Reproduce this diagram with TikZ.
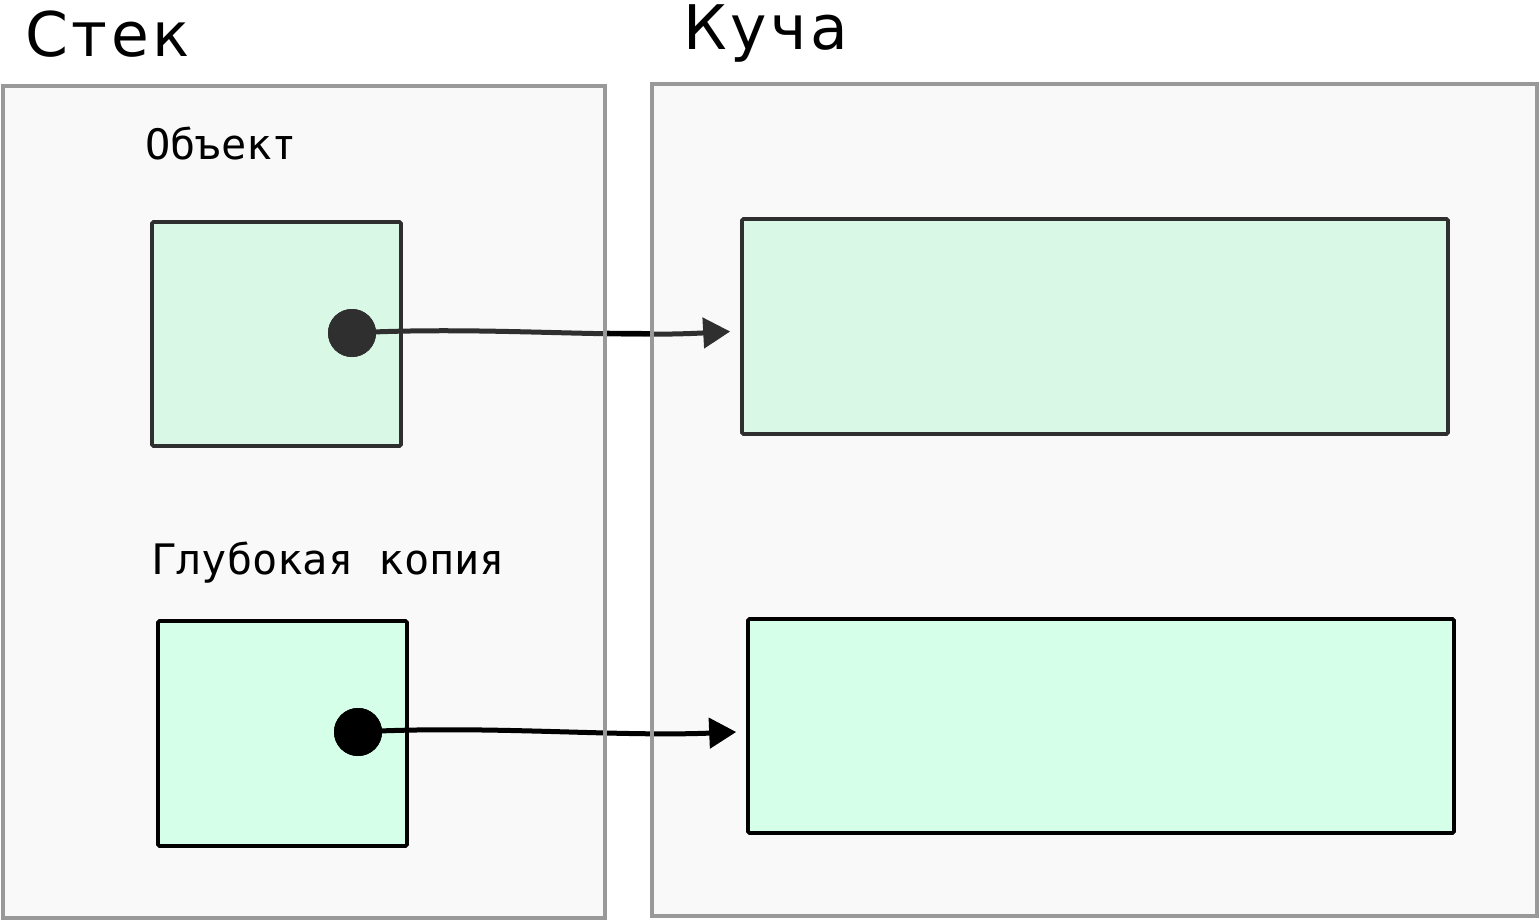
\documentclass[tikz,border=0pt]{standalone}
\usepackage{fontspec}
\setmainfont{DejaVu Sans}[LetterSpace=6]
\newfontfamily\labelmono{DejaVu Sans Mono}
\usetikzlibrary{arrows.meta}
\definecolor{panelfill}{HTML}{F9F9F9}
\definecolor{panelline}{HTML}{999999}
\definecolor{boxA}{HTML}{D9F9E6}
\definecolor{boxB}{HTML}{D5FFE9}
\definecolor{darkA}{HTML}{2F2F2F}
\tikzset{
  panel/.style={draw=panelline, line width=3.5pt, fill=panelfill},
  panelborder/.style={draw=panelline, line width=3.5pt},
  membox/.style={draw, line width=3.6pt, rounded corners=1.5pt, inner sep=0pt},
  refdot/.style={circle, inner sep=0pt, minimum size=48pt},
  refarrow/.style={line width=5pt, -{Triangle[length=27pt,width=30pt]}},
  bigtitle/.style={anchor=base west, inner sep=0pt, font=\fontsize{61.5}{73}\selectfont},
  label/.style={anchor=base west, inner sep=0pt, font=\labelmono\fontsize{42}{50}\selectfont},
}
\begin{document}
\begin{tikzpicture}[x=1pt, y=-1pt]
\useasboundingbox (0,0) rectangle (1540,920);
% panels
\path[panel] (3,86) rectangle (605,918);
\path[panel] (652,84) rectangle (1537,916);
% titles
\node[bigtitle] (stack) at (25,57) {Стек};
\node[bigtitle] (heap) at (683,50) {Куча};
\node[label] (objlbl) at (145,160) {Объект};
\node[label] (copylbl) at (151,574) {Глубокая копия};
% boxes
\node[membox, draw=darkA, fill=boxA, minimum width=249pt, minimum height=224pt] (obj) at (276.5,334) {};
\node[membox, draw=black, fill=boxB, minimum width=249pt, minimum height=225pt] (copy) at (282.5,733.5) {};
\node[membox, draw=darkA, fill=boxA, minimum width=706pt, minimum height=215pt] (heapA) at (1095,326.5) {};
\node[membox, draw=black, fill=boxB, minimum width=706pt, minimum height=214pt] (heapB) at (1101,726) {};
% arrows
\coordinate (tipA) at ([xshift=-10pt,yshift=-5pt]heapA.west);
\coordinate (tipB) at ([xshift=-10pt,yshift=-6pt]heapB.west);
\node[refdot, fill=darkA] (dotA) at (352,333) {};
\node[refdot, fill=black] (dotB) at (358,732) {};
\draw[refarrow, darkA] (dotA.center) .. controls (480,326) and (610,338) .. (tipA);
\begin{scope}
  \clip (606.8,0) rectangle (650.2,920);
  \draw[line width=5pt, black] (dotA.center) .. controls (480,326) and (610,338) .. (tipA);
\end{scope}
\draw[refarrow, black] (dotB.center) .. controls (486,725) and (616,737) .. (tipB);
\fill[darkA] (dotA) circle (24pt);
\fill[black] (dotB) circle (24pt);
% panel borders over the arrows
\path[panelborder] (3,86) rectangle (605,918);
\path[panelborder] (652,84) rectangle (1537,916);
\end{tikzpicture}
\end{document}
